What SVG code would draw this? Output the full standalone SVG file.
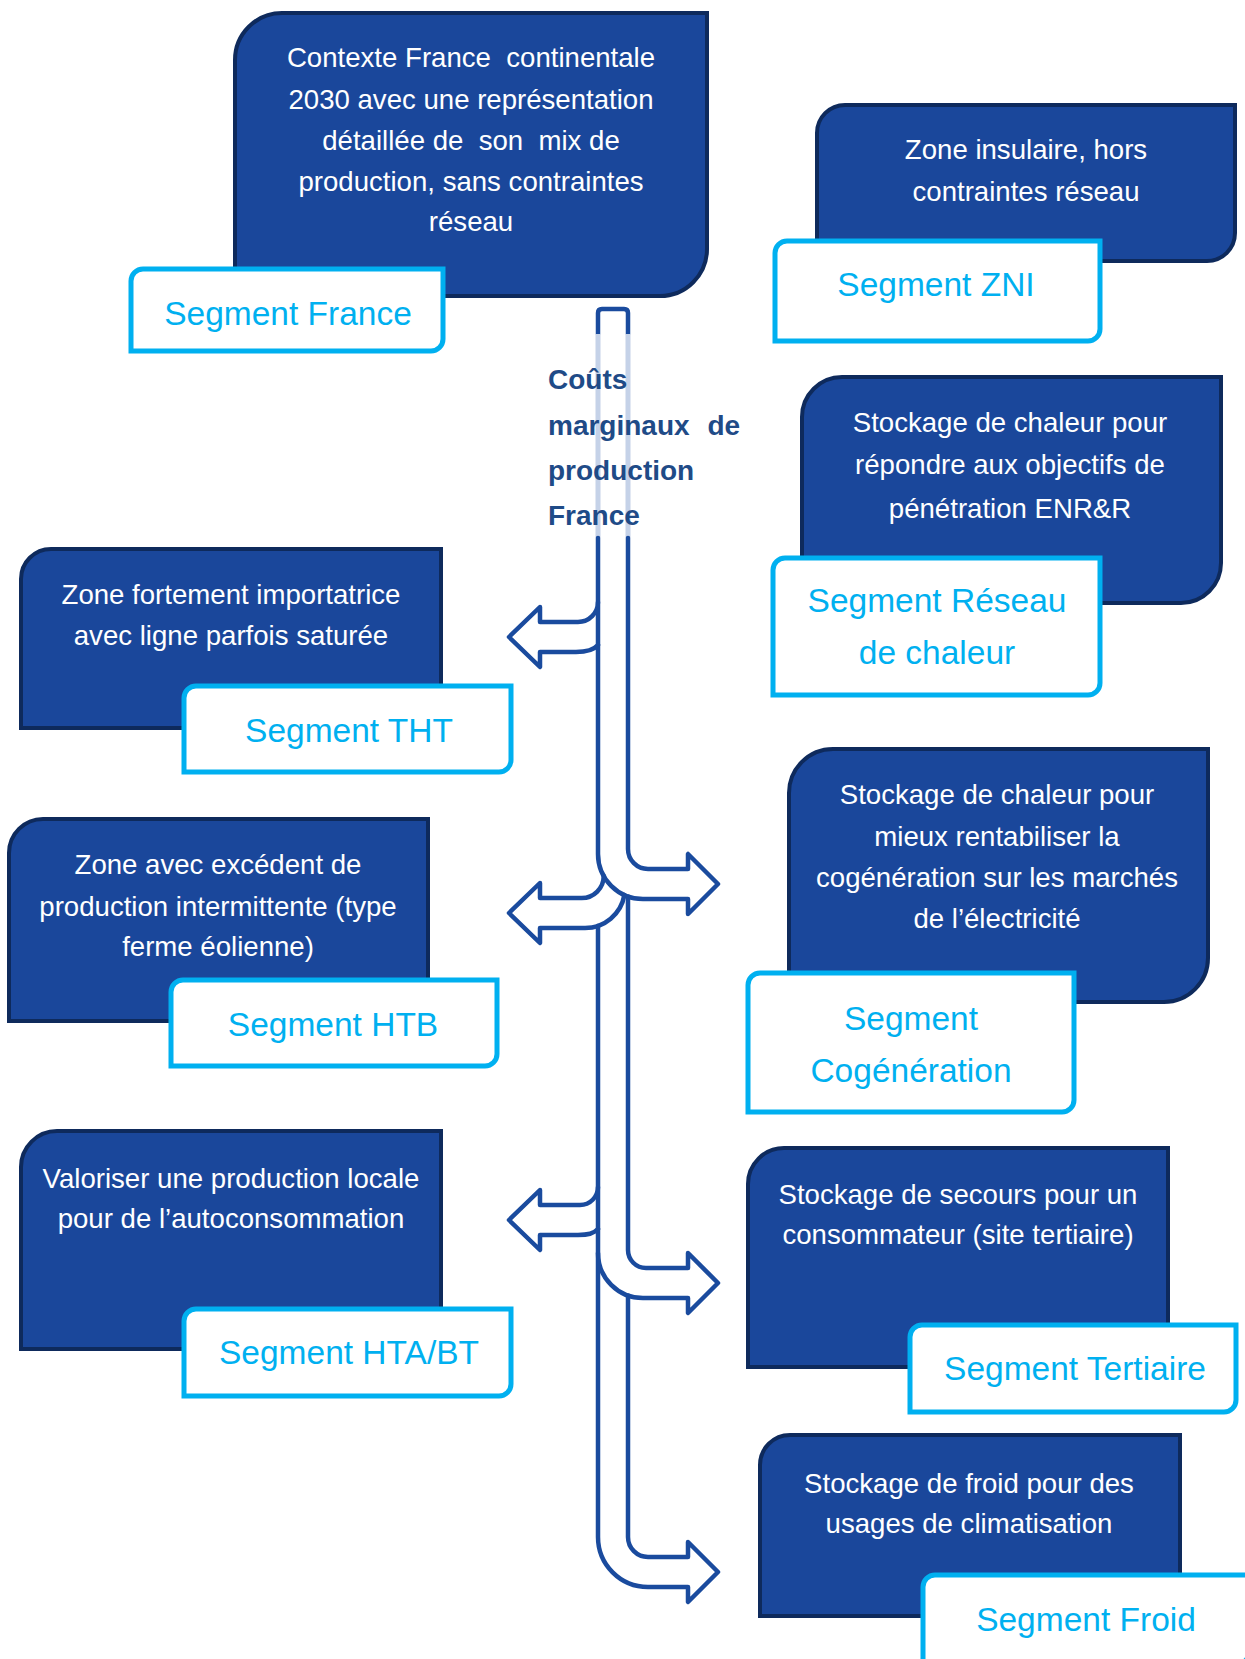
<svg xmlns="http://www.w3.org/2000/svg" width="1245" height="1659" viewBox="0 0 1245 1659">
<style>
.box{fill:#1a479b;stroke:#0e2a5c;stroke-width:4;}
.seg{fill:#ffffff;stroke:#00b0f0;stroke-width:5;}
.bt{font-family:"Liberation Sans",Arial,sans-serif;font-size:27.6px;fill:#ffffff;text-anchor:middle;}
.st{font-family:"Liberation Sans",Arial,sans-serif;font-size:33.5px;fill:#00b0f0;text-anchor:middle;}
.ln{fill:none;stroke:#1a4b9e;stroke-width:4.5;stroke-linejoin:round;stroke-linecap:round;}
.lt{fill:none;stroke:#c5d2e8;stroke-width:5;}
.lab{font-family:"Liberation Sans",Arial,sans-serif;font-size:28px;font-weight:bold;fill:#1f4b87;}
</style>
<rect width="1245" height="1659" fill="#ffffff"/>

<g id="connectors">
  <path class="ln" d="M598,334 V313 Q598,309 602,309 H624 Q628,309 628,313 V334"/>
  <path class="lt" d="M598,334 V538 M628,334 V538"/>
  <path class="ln" d="M598,538 V854 A45,45 0 0 0 643,899 H688 V914 L718,884 L688,854 V869 H648 A20,20 0 0 1 628,849 V538"/>
  <path class="ln" d="M598,602 A20,20 0 0 1 578,622 H540 V607 L509,637 L540,667 V652 H576 Q592,652 598,645"/>
  <path class="ln" d="M603.7,876 A22,22 0 0 1 581.7,898 H540 V883 L509,913 L540,943 V928 H585 A40,40 0 0 0 624.4,895"/>
  <path class="ln" d="M598,1187 A18,18 0 0 1 580,1205 H540 V1190 L509,1220 L540,1250 V1235 H578 Q593,1235 598,1229"/>
  <path class="ln" d="M628,896.4 V1250 A18,18 0 0 0 646,1268 H688 V1253 L718,1283 L688,1313 V1298 H643 A45,45 0 0 1 598,1253"/>
  <path class="ln" d="M628,1295.4 V1537 A20,20 0 0 0 648,1557 H688 V1542 L718,1572 L688,1602 V1587 H648 A50,50 0 0 1 598,1537 V925.8"/>
</g>

<g id="label-couts">
  <text class="lab" x="548" y="389">Coûts</text>
  <text class="lab" x="548" y="435" word-spacing="10">marginaux de</text>
  <text class="lab" x="548" y="480">production</text>
  <text class="lab" x="548" y="525">France</text>
</g>

<g id="node-france">
  <path class="box" d="M282,13 H707 V249 A47,47 0 0 1 660,296 H235 V60 A47,47 0 0 1 282,13 Z"/>
  <text class="bt" xml:space="preserve"><tspan x="471" y="67">Contexte France  continentale</tspan><tspan x="471" y="109">2030 avec une représentation</tspan><tspan x="471" y="150">détaillée de  son  mix de</tspan><tspan x="471" y="191">production, sans contraintes</tspan><tspan x="471" y="231">réseau</tspan></text>
  <path class="seg" d="M143,269 H443 V339 A12,12 0 0 1 431,351 H131 V281 A12,12 0 0 1 143,269 Z"/>
  <text class="st" x="288" y="325">Segment France</text>
</g>

<g id="node-zni">
  <path class="box" d="M845,105 H1235 V233 A28,28 0 0 1 1207,261 H817 V133 A28,28 0 0 1 845,105 Z"/>
  <text class="bt"><tspan x="1026" y="159">Zone insulaire, hors</tspan><tspan x="1026" y="201">contraintes réseau</tspan></text>
  <path class="seg" d="M787,241 H1100 V329 A12,12 0 0 1 1088,341 H775 V253 A12,12 0 0 1 787,241 Z"/>
  <text class="st" x="936" y="296">Segment ZNI</text>
</g>

<g id="node-reseau-chaleur">
  <path class="box" d="M842,377 H1221 V563 A40,40 0 0 1 1181,603 H802 V417 A40,40 0 0 1 842,377 Z"/>
  <text class="bt"><tspan x="1010" y="432">Stockage de chaleur pour</tspan><tspan x="1010" y="474">répondre aux objectifs de</tspan><tspan x="1010" y="518">pénétration ENR&amp;R</tspan></text>
  <path class="seg" d="M785,558 H1100 V683 A12,12 0 0 1 1088,695 H773 V570 A12,12 0 0 1 785,558 Z"/>
  <text class="st"><tspan x="937" y="612">Segment Réseau</tspan><tspan x="937" y="664">de chaleur</tspan></text>
</g>

<g id="node-tht">
  <path class="box" d="M51,549 H441 V698 A30,30 0 0 1 411,728 H21 V579 A30,30 0 0 1 51,549 Z"/>
  <text class="bt"><tspan x="231" y="604">Zone fortement importatrice</tspan><tspan x="231" y="645">avec ligne parfois saturée</tspan></text>
  <path class="seg" d="M196,686 H511 V760 A12,12 0 0 1 499,772 H184 V698 A12,12 0 0 1 196,686 Z"/>
  <text class="st" x="349" y="742">Segment THT</text>
</g>

<g id="node-htb">
  <path class="box" d="M43,819 H428 V987 A34,34 0 0 1 394,1021 H9 V853 A34,34 0 0 1 43,819 Z"/>
  <text class="bt"><tspan x="218" y="874">Zone avec excédent de</tspan><tspan x="218" y="916">production intermittente (type</tspan><tspan x="218" y="956">ferme éolienne)</tspan></text>
  <path class="seg" d="M183,980 H497 V1054 A12,12 0 0 1 485,1066 H171 V992 A12,12 0 0 1 183,980 Z"/>
  <text class="st" x="333" y="1036">Segment HTB</text>
</g>

<g id="node-cogeneration">
  <path class="box" d="M833,749 H1208 V958 A44,44 0 0 1 1164,1002 H789 V793 A44,44 0 0 1 833,749 Z"/>
  <text class="bt"><tspan x="997" y="804">Stockage de chaleur pour</tspan><tspan x="997" y="846">mieux rentabiliser la</tspan><tspan x="997" y="887">cogénération sur les marchés</tspan><tspan x="997" y="928">de l’électricité</tspan></text>
  <path class="seg" d="M760,973 H1074 V1100 A12,12 0 0 1 1062,1112 H748 V985 A12,12 0 0 1 760,973 Z"/>
  <text class="st"><tspan x="911" y="1030">Segment</tspan><tspan x="911" y="1082">Cogénération</tspan></text>
</g>

<g id="node-hta-bt">
  <path class="box" d="M57,1131 H441 V1313 A36,36 0 0 1 405,1349 H21 V1167 A36,36 0 0 1 57,1131 Z"/>
  <text class="bt"><tspan x="231" y="1188">Valoriser une production locale</tspan><tspan x="231" y="1228">pour de l’autoconsommation</tspan></text>
  <path class="seg" d="M196,1309 H511 V1384 A12,12 0 0 1 499,1396 H184 V1321 A12,12 0 0 1 196,1309 Z"/>
  <text class="st" x="349" y="1364">Segment HTA/BT</text>
</g>

<g id="node-tertiaire">
  <path class="box" d="M784,1148 H1168 V1331 A36,36 0 0 1 1132,1367 H748 V1184 A36,36 0 0 1 784,1148 Z"/>
  <text class="bt"><tspan x="958" y="1204">Stockage de secours pour un</tspan><tspan x="958" y="1244">consommateur (site tertiaire)</tspan></text>
  <path class="seg" d="M922,1325 H1236 V1400 A12,12 0 0 1 1224,1412 H910 V1337 A12,12 0 0 1 922,1325 Z"/>
  <text class="st" x="1075" y="1380">Segment Tertiaire</text>
</g>

<g id="node-froid">
  <path class="box" d="M790,1435 H1180 V1586 A30,30 0 0 1 1150,1616 H760 V1465 A30,30 0 0 1 790,1435 Z"/>
  <text class="bt"><tspan x="969" y="1493">Stockage de froid pour des</tspan><tspan x="969" y="1533">usages de climatisation</tspan></text>
  <path class="seg" d="M935,1575 H1249 V1652 A12,12 0 0 1 1237,1664 H923 V1587 A12,12 0 0 1 935,1575 Z"/>
  <text class="st" x="1086" y="1631">Segment Froid</text>
</g>
</svg>
